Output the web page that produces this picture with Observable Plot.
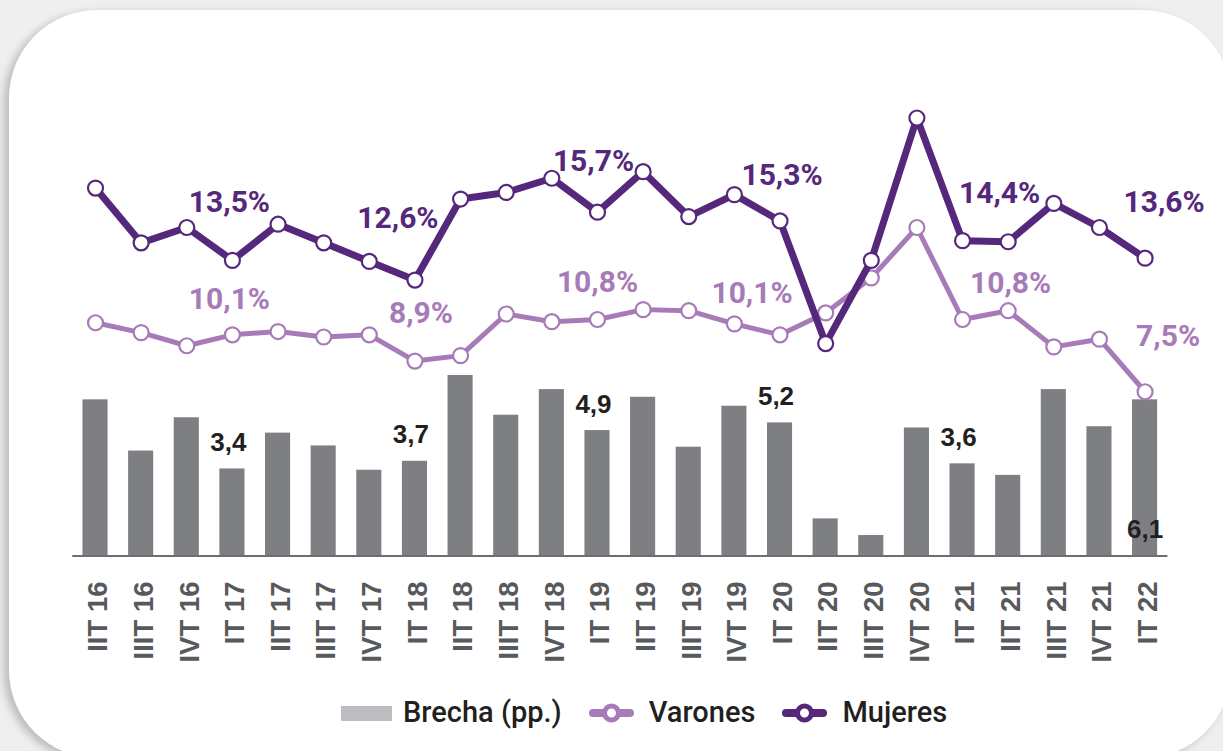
<!DOCTYPE html>
<html>
<head>
<meta charset="utf-8">
<script src="https://cdn.jsdelivr.net/npm/d3@7"></script>
<script src="https://cdn.jsdelivr.net/npm/@observablehq/plot@0.6"></script>
<style>
  html, body { margin: 0; padding: 0; width: 1223px; height: 751px; overflow: hidden; background: #efefef; }
  #card { position: absolute; left: 9px; top: 10px; width: 1222px; height: 748px; border-radius: 88px;
          background: #fff; box-shadow: -5px 3px 9px rgba(0,0,0,0.22); }
  #chart { position: absolute; left: 0; top: 0; }
  #legend { position: absolute; left: 341px; top: 695px; height: 34px; line-height: 34px; display: flex; align-items: center;
            font-family: Roboto, sans-serif; font-size: 29px; font-weight: 500; color: #231f20; white-space: nowrap; }
  #legend .sw { width: 51px; height: 15px; background: #bcbdc0; position: relative; top: 1px; }
  #legend svg { position: relative; top: 1px; display: block; }
</style>
</head>
<body>
<div id="card"></div>
<div id="chart"></div>
<div id="legend"></div>
<script>
// ---- data ----
const quarters = ["IIT 16","IIIT 16","IVT 16","IT 17","IIT 17","IIIT 17","IVT 17","IT 18","IIT 18","IIIT 18","IVT 18","IT 19",
                  "IIT 19","IIIT 19","IVT 19","IT 20","IIT 20","IIIT 20","IVT 20","IT 21","IIT 21","IIIT 21","IVT 21","IT 22"];
const mujeres = [16.8,14.3,15.0,13.5,15.15,14.3,13.45,12.6,16.3,16.6,17.25,15.7,17.55,15.5,16.5,15.3,9.7,13.5,20.0,14.4,14.35,16.1,15.0,13.6];
const varones = [10.65,10.2,9.6,10.1,10.25,10.0,10.1,8.9,9.15,11.05,10.7,10.8,11.25,11.2,10.6,10.1,11.1,12.7,15.0,10.8,11.2,9.55,9.9,7.5];
const brecha  = [6.1,4.1,5.4,3.4,4.8,4.3,3.35,3.7,7.05,5.5,6.5,4.9,6.2,4.25,5.85,5.2,1.45,0.8,5.0,3.6,3.15,6.5,5.05,6.1];
const labeled = ["IT 17","IT 18","IT 19","IT 20","IT 21","IT 22"];
const seriesNames = ["Brecha (pp.)", "Varones", "Mujeres"];

// ---- styling / layout config ----
const C_M = "#55287b", C_V = "#a77bb8", C_BAR = "#7e7f83";
const BAR_K = 25.6 / 21.9; // bars drawn on a secondary (stretched) axis
const nudgeM = {"IT 17":[-3,-48],"IT 18":[-17,-52],"IT 19":[-4,-41],"IT 20":[2,-36],"IT 21":[37,-38],"IT 22":[19,-46]};
const nudgeV = {"IT 17":[-3,-26],"IT 18":[6,-38],"IT 19":[0,-27],"IT 20":[-28,-32],"IT 21":[48,-26],"IT 22":[23,-46]};
const barLabelAtBase = {"IT 22": true};

const rows = quarters.map((q, i) => ({q, mujeres: mujeres[i], varones: varones[i], brecha: brecha[i]}));
const fmt = v => v.toFixed(1).replace(".", ",");

const labelMarks = [];
for (const q of labeled) {
  const r = rows.filter(d => d.q === q);
  labelMarks.push(Plot.text(r, {x: "q", y: "mujeres", text: d => fmt(d.mujeres) + "%", dx: nudgeM[q][0], dy: nudgeM[q][1],
    lineAnchor: "bottom", fill: C_M, fontSize: 30, fontWeight: 700, fontFamily: "Roboto"}));
  labelMarks.push(Plot.text(r, {x: "q", y: "varones", text: d => fmt(d.varones) + "%", dx: nudgeV[q][0], dy: nudgeV[q][1],
    lineAnchor: "bottom", fill: C_V, fontSize: 30, fontWeight: 700, fontFamily: "Roboto"}));
  labelMarks.push(Plot.text(r, {x: "q", y: d => barLabelAtBase[q] ? 0 : d.brecha * BAR_K, text: d => fmt(d.brecha),
    dx: barLabelAtBase[q] ? 0 : -4, dy: -18, lineAnchor: "bottom", fill: "#231f20", fontSize: 26, fontWeight: 700,
    fontFamily: "Liberation Sans"}));
}

const chart = Plot.plot({
  width: 1223,
  height: 680,
  marginTop: 117.5,
  marginBottom: 124.5,
  marginLeft: 72.2,
  marginRight: 55.6,
  style: {background: "transparent", overflow: "visible"},
  x: {type: "band", domain: quarters, paddingInner: 0.45, paddingOuter: 0.225, round: false, axis: null},
  y: {domain: [0, 20], axis: null},
  marks: [
    Plot.barY(rows, {x: "q", y: d => d.brecha * BAR_K, fill: C_BAR}),
    Plot.ruleY([0], {stroke: "#6d6e70", strokeWidth: 2}),
    Plot.line(rows, {x: "q", y: "varones", stroke: C_V, strokeWidth: 5}),
    Plot.dot(rows, {x: "q", y: "varones", r: 7.5, fill: "white", stroke: C_V, strokeWidth: 2.2}),
    Plot.line(rows, {x: "q", y: "mujeres", stroke: C_M, strokeWidth: 7}),
    Plot.dot(rows, {x: "q", y: "mujeres", r: 7.5, fill: "white", stroke: C_M, strokeWidth: 2.2}),
    ...labelMarks,
    Plot.text(quarters, {x: d => d, frameAnchor: "bottom", dx: 3, dy: 25.5, rotate: -90, textAnchor: "end", lineAnchor: "middle",
      fontSize: 27.5, fontWeight: 700, fontFamily: "Liberation Sans", fill: "#58595b"})
  ]
});
document.getElementById("chart").appendChild(chart);

// ---- legend ----
const legend = document.getElementById("legend");
function sym(color) {
  return `<svg width="45" height="22" viewBox="0 0 45 22"><line x1="4" x2="41" y1="11" y2="11" stroke="${color}" stroke-width="8" stroke-linecap="round"/>` +
         `<circle cx="22.5" cy="11" r="7" fill="white" stroke="${color}" stroke-width="5"/></svg>`;
}
const parts = [
  {html: `<div class="sw"></div>`, gap: 11},
  {text: seriesNames[0], gap: 27},
  {html: sym(C_V), gap: 15},
  {text: seriesNames[1], gap: 27},
  {html: sym(C_M), gap: 15},
  {text: seriesNames[2], gap: 0}
];
for (const p of parts) {
  let el;
  if (p.text) { el = document.createElement("span"); el.textContent = p.text; }
  else { const w = document.createElement("div"); w.innerHTML = p.html; el = w.firstChild; }
  el.style.marginRight = p.gap + "px";
  legend.appendChild(el);
}
</script>
</body>
</html>
